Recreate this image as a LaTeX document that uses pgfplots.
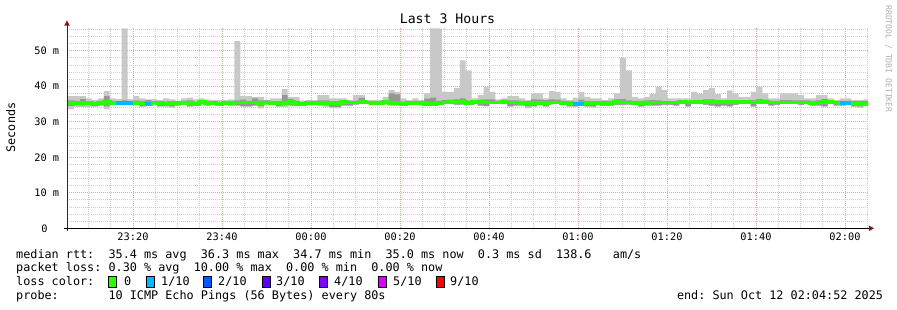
\documentclass[border=0pt]{standalone}
\usepackage{fontspec}
\setmainfont{DejaVu Sans Mono}
\setmonofont{DejaVu Sans Mono}
\usepackage{pgfplots}
\usepackage{pgfplotstable}
\pgfplotsset{compat=1.18}
\usepgfplotslibrary{fillbetween}

\definecolor{smokeL}{RGB}{200,200,200}
\definecolor{smokeM}{RGB}{150,150,150}
\definecolor{lossA}{RGB}{38,255,0}
\definecolor{lossB}{RGB}{0,184,255}
\definecolor{lossC}{RGB}{0,89,255}
\definecolor{lossD}{RGB}{94,0,255}
\definecolor{lossE}{RGB}{126,0,255}
\definecolor{lossF}{RGB}{221,0,255}
\definecolor{lossG}{RGB}{255,0,0}
\definecolor{mgrid}{RGB}{240,160,160}
\definecolor{mingrid}{RGB}{205,205,205}
\definecolor{axcol}{RGB}{40,40,40}
\definecolor{arrcol}{RGB}{130,20,20}

\pgfplotstableread{
k lo hi qa qb med
-1 33.5 38.9 34.3 36.5 35.3
0 33.5 37.2 34.5 36.0 35.3
1 34.2 37.2 34.6 35.9 35.3
2 34.2 37.2 34.6 36.4 35.3
3 34.2 36.6 34.7 35.8 35.3
4 34.2 36.1 34.4 35.5 35.0
5 34.4 36.6 34.7 35.9 35.3
6 33.5 38.6 34.3 37.2 35.7
7 34.7 36.6 34.8 35.9 35.3
8 34.7 36.4 34.8 35.8 35.2
9 34.7 56.3 34.8 36.0 35.2
10 34.7 36.4 34.8 35.8 35.2
11 34.7 37.2 34.8 36.0 35.3
12 34.2 36.6 34.4 35.9 35.2
13 34.4 36.3 34.5 36.1 34.9
14 34.9 36.4 34.9 35.8 35.4
15 34.2 36.1 34.5 35.7 35.3
16 34.2 36.6 34.5 35.7 35.0
17 34.0 36.3 34.3 35.8 35.3
18 34.4 35.9 34.6 35.7 35.3
19 34.7 36.6 34.8 35.9 35.4
20 34.2 36.8 34.5 36.0 35.3
21 34.4 36.3 34.5 35.6 34.9
22 35.0 36.6 35.0 36.1 35.6
23 34.4 36.3 34.6 35.8 35.3
24 34.7 36.1 34.8 35.7 35.3
25 34.7 36.1 34.8 35.6 35.1
26 34.7 36.1 34.8 35.7 35.3
27 34.4 36.3 34.6 35.8 35.3
28 34.4 52.7 34.6 36.0 35.4
29 34.2 37.2 34.5 36.2 35.4
30 34.2 37.2 34.5 35.9 35.4
31 34.4 36.9 34.6 36.6 35.4
32 33.8 37.0 34.4 36.0 35.3
33 34.9 36.1 35.0 36.0 35.4
34 34.7 36.6 34.8 35.8 35.3
35 34.2 36.6 34.5 35.8 35.2
36 34.2 39.2 34.6 37.5 35.3
37 34.4 37.0 34.6 36.4 35.6
38 34.4 36.9 34.4 35.8 35.0
39 34.4 35.9 34.5 35.5 35.0
40 35.0 36.1 35.0 35.9 35.3
41 34.7 36.1 34.8 35.8 35.3
42 34.4 37.5 34.7 36.0 35.3
43 34.2 37.5 34.6 36.0 35.3
44 33.8 36.6 34.2 35.6 35.3
45 33.8 36.6 34.2 35.7 35.3
46 34.4 36.6 34.7 36.0 35.5
47 34.4 36.1 34.6 35.8 35.4
48 34.7 37.5 34.9 35.9 35.4
49 35.2 37.5 35.2 36.7 35.5
50 35.0 36.1 35.0 35.9 35.4
51 34.7 36.1 34.8 35.8 35.3
52 34.7 36.1 34.8 35.8 35.3
53 35.2 37.0 35.2 36.1 35.5
54 34.4 38.9 34.8 38.0 35.3
55 34.4 38.4 34.8 37.7 35.3
56 34.4 36.6 34.5 35.6 35.0
57 35.0 36.1 35.0 35.8 35.3
58 35.0 36.6 35.0 35.9 35.3
59 34.7 36.1 34.8 35.8 35.3
60 35.2 38.0 35.2 36.5 35.1
61 34.7 56.3 34.8 36.8 35.1
62 34.7 56.3 34.8 35.9 35.2
63 35.0 38.4 35.0 36.1 35.4
64 35.0 38.4 35.0 36.2 35.5
65 34.7 39.5 34.8 36.3 35.4
66 34.7 47.3 34.9 36.6 35.5
67 34.6 44.5 34.8 35.9 35.3
68 35.0 36.6 35.0 36.1 35.7
69 34.4 37.5 34.6 36.2 35.5
70 34.4 39.8 34.4 36.3 35.4
71 35.0 38.4 35.0 36.3 35.4
72 35.0 36.3 35.0 35.9 35.4
73 35.0 36.6 35.0 36.2 35.7
74 34.2 37.2 34.5 36.0 35.4
75 34.4 37.2 34.6 36.0 35.4
76 34.4 36.6 34.6 35.9 35.3
77 33.8 36.1 34.3 35.7 35.2
78 34.2 38.0 34.5 36.3 35.3
79 34.7 38.0 34.8 36.2 35.3
80 34.2 36.6 34.5 36.1 35.3
81 35.0 38.6 35.0 36.3 35.4
82 35.0 38.4 35.0 36.2 35.4
83 34.7 36.6 34.8 35.9 35.3
84 34.2 36.1 34.5 35.7 35.2
85 34.2 36.8 34.4 35.6 35.0
86 34.7 38.4 34.8 36.2 35.0
87 34.2 37.0 34.4 35.9 35.2
88 34.0 36.6 34.3 35.8 35.3
89 34.7 36.6 34.8 35.8 35.3
90 35.0 36.1 35.0 35.9 35.1
91 34.4 36.6 34.6 35.8 35.3
92 34.7 38.0 34.8 36.3 35.5
93 34.6 47.9 34.8 36.4 35.4
94 34.7 44.5 34.9 36.0 35.4
95 34.7 37.0 34.8 35.9 35.3
96 34.2 36.6 34.4 35.9 35.3
97 34.4 37.0 34.6 36.0 35.3
98 34.4 37.8 34.6 36.1 35.4
99 34.5 39.8 34.7 36.0 35.4
100 34.6 39.0 34.8 35.9 35.4
101 34.7 36.6 34.8 35.8 35.4
102 34.4 36.6 34.6 35.8 35.4
103 35.0 36.6 35.0 35.9 35.5
104 34.2 36.6 34.4 35.8 35.4
105 35.0 38.4 35.0 36.1 35.5
106 35.0 37.8 35.0 36.1 35.5
107 34.7 39.0 34.8 36.3 35.5
108 34.4 39.5 34.6 36.3 35.5
109 34.2 37.8 34.4 35.9 35.5
110 34.4 36.6 34.6 35.9 35.5
111 34.2 38.8 34.5 36.0 35.5
112 34.7 38.0 34.8 36.0 35.5
113 35.0 37.0 35.0 36.0 35.6
114 35.0 37.0 35.0 35.9 35.5
115 34.2 38.4 34.4 36.0 35.4
116 35.2 39.8 35.2 36.4 35.5
117 35.0 38.0 35.0 36.2 35.5
118 34.4 36.6 34.6 35.9 35.4
119 34.7 36.6 34.8 35.9 35.4
120 35.0 38.0 35.0 36.1 35.4
121 35.2 38.0 35.2 36.1 35.4
122 35.0 38.0 35.0 36.0 35.4
123 34.7 37.5 34.8 36.0 35.4
124 35.0 36.6 35.0 36.0 35.4
125 34.4 36.6 34.6 35.9 35.3
126 34.4 37.5 34.6 36.0 35.4
127 34.2 37.5 34.4 36.4 35.5
128 35.0 36.6 35.0 36.0 35.5
129 34.4 36.1 34.6 35.8 35.4
130 34.4 36.6 34.6 35.9 35.2
131 34.9 36.6 35.0 35.9 35.2
132 34.2 36.1 34.4 35.8 35.2
133 34.0 36.1 34.3 35.8 35.0
134 34.4 36.3 34.6 35.8 35.1
135 34.4 36.3 34.6 35.8 35.1
}\smoke

\begin{document}
\frenchspacing
\begin{tikzpicture}[x=1pt,y=1pt]
\path (0,0) rectangle (897,310);
\begin{axis}[
  at={(67pt,81.7pt)}, anchor=south west,
  scale only axis, width=801pt, height=200.3pt,
  xmin=-0.2, xmax=134.8, ymin=0, ymax=56.4,
  axis line style={draw=none},
  tick style={draw=none},
  xtick={10.92,25.92,40.92,55.92,70.92,85.92,100.92,115.92,130.92},
  xticklabels={23:20,23:40,00:00,00:20,00:40,01:00,01:20,01:40,02:00},
  minor xtick={3.42,7.17,14.67,18.42,22.17,29.67,33.42,37.17,44.67,48.42,52.17,59.67,63.42,67.17,74.67,78.42,82.17,89.67,93.42,97.17,104.67,108.42,112.17,119.67,123.42,127.17,134.67},
  ytick={0,10,20,30,40,50},
  yticklabels={0\rule{11.6pt}{0pt},10 m,20 m,30 m,40 m,50 m},
  minor ytick={2,4,6,8,12,14,16,18,22,24,26,28,32,34,36,38,42,44,46,48,52,54,56},
  grid=both,
  major grid style={draw=mgrid, line width=0.8pt, dash pattern=on 1pt off 1pt},
  minor grid style={draw=mingrid, line width=0.8pt, dash pattern=on 1pt off 1pt},
  ticklabel style={font=\fontsize{10.3}{12}\selectfont},
  xticklabel style={anchor=base, inner sep=0pt, yshift=-12.4pt},
  yticklabel style={anchor=east, inner sep=0pt, xshift=-7.6pt},
]
\addplot[name path=lo, draw=none, const plot, forget plot] table[x=k,y=lo]{\smoke};
\addplot[name path=hi, draw=none, const plot, forget plot] table[x=k,y=hi]{\smoke};
\addplot[fill=smokeL, draw=none] fill between[of=lo and hi];
\addplot[name path=qa, draw=none, const plot, forget plot] table[x=k,y=qa]{\smoke};
\addplot[name path=qb, draw=none, const plot, forget plot] table[x=k,y=qb]{\smoke};
\addplot[fill=smokeM, draw=none] fill between[of=qa and qb];
\addplot[const plot, draw=lossA, line width=3.8pt, mark=none] table[x=k,y=med]{\smoke};
\addplot[draw=lossB, line width=3.8pt, mark=none] coordinates {(8,35.2) (11,35.2)};
\addplot[draw=lossB, line width=3.8pt, mark=none] coordinates {(13,34.9) (14,34.9)};
\addplot[draw=lossB, line width=3.8pt, mark=none] coordinates {(85,35.0) (87,35.0)};
\addplot[draw=lossB, line width=3.8pt, mark=none] coordinates {(130,35.2) (132,35.2)};
\end{axis}
% axis lines and arrows
\draw[axcol, line width=1pt] (67,79) -- (67,284.5);
\fill[arrcol] (64.2,284.3) -- (69.8,284.3) -- (67,289.5) -- cycle;
\draw[black, line width=1pt] (64,81.7) -- (869,81.7);
\fill[arrcol] (868.8,84.5) -- (868.8,78.9) -- (874,81.7) -- cycle;
% titles
\node[anchor=base, inner sep=0pt, font=\fontsize{13.2}{15}\selectfont] at (447.5,286) {Last 3 Hours};
\node[rotate=90, inner sep=0pt, font=\fontsize{11.8}{14}\selectfont] at (10.8,182.5) {Seconds};
\node[rotate=-90, inner sep=0pt, text={rgb,255:red,175;green,175;blue,175}, font=\fontsize{8.1}{10}\selectfont] at (888.5,251) {RRDTOOL / TOBI OETIKER};
% legend
\begin{scope}[every node/.style={anchor=base west, inner sep=0pt, font=\fontsize{11.8}{14}\selectfont}]
\node at (16,51.8) {median rtt:~~35.4 ms avg~~36.3 ms max~~34.7 ms min~~35.0 ms now~~0.3 ms sd~~138.6~~~am/s};
\node at (16,38.0) {packet loss: 0.30 \% avg~~10.00 \% max~~0.00 \% min~~0.00 \% now};
\node at (16,24.2) {loss color:};
\node at (16,10.3) {probe:~~~~~~~10 ICMP Echo Pings (56 Bytes) every 80s};
\node at (676.8,10.3) {end: Sun Oct 12 02:04:52 2025};
\node at (124,24.2) {0};
\node at (161,24.2) {1/10};
\node at (218,24.2) {2/10};
\node at (276,24.2) {3/10};
\node at (334,24.2) {4/10};
\node at (393,24.2) {5/10};
\node at (450,24.2) {9/10};
\end{scope}
\foreach \bx/\bc in {108/lossA,146/lossB,203/lossC,262/lossD,319/lossE,378/lossF,436/lossG}{
  \filldraw[fill=\bc, draw=black, line width=0.8pt] (\bx,22.7) rectangle ++(8,10.6);
}
\end{tikzpicture}
\end{document}
